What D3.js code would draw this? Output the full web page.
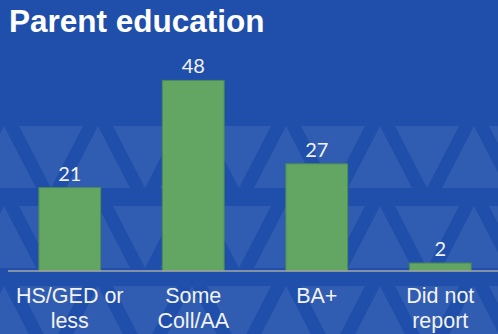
<!DOCTYPE html>
<html>
<head>
<meta charset="utf-8">
<script src="https://cdn.jsdelivr.net/npm/d3@7"></script>
<style>
  html, body { margin: 0; padding: 0; background: #1f4fab; }
  svg { display: block; }
</style>
</head>
<body>
<svg></svg>
<script>
var svgWidth = 498, svgHeight = 334;

// chart data
var categories = ["HS/GED or|less", "Some|Coll/AA", "BA+", "Did not|report"];
var values = [21, 48, 27, 2];
var title = "Parent education";

var svg = d3.select("svg").attr("width", svgWidth).attr("height", svgHeight);

// background
svg.append("rect")
    .attr("width", svgWidth)
    .attr("height", svgHeight)
    .attr("fill", "#1f4fab");

// decorative triangle band
var deco = svg.append("g").attr("fill", "#ffffff").attr("opacity", 0.075);
var rows = [126, 206, 286];
rows.forEach(function(top, r) {
    for (var k = -1; k < 7; k++) {
        var cx = 4 + k * 94;
        var h = 62, w = 64;
        // up triangle
        deco.append("path")
            .attr("d", "M" + (cx + 94) + "," + top + " L" + (cx + 94 + w / 2) + "," + (top + h) + " L" + (cx + 94 - w / 2) + "," + (top + h) + "Z");
        // down triangle
        deco.append("path")
            .attr("d", "M" + (cx + 47 - w / 2) + "," + top + " L" + (cx + 47 + w / 2) + "," + top + " L" + (cx + 47) + "," + (top + h) + "Z");
    }
});

var margin = {left: 8, right: -4},
    baseY = 271;

var xScale = d3.scaleBand()
    .domain(categories)
    .range([margin.left, svgWidth - margin.right])
    .paddingInner(0.5)
    .paddingOuter(0.25);

var yScale = d3.scaleLinear()
    .domain([0, 60])
    .range([baseY, baseY - 60 * 3.97]);

// title
svg.append("text")
    .text(title)
    .attr("x", 9)
    .attr("y", 32)
    .attr("fill", "#ffffff")
    .style("font-family", "Liberation Sans, Arial, sans-serif")
    .style("font-weight", "bold")
    .style("font-size", "31.5px");

// bars
svg.selectAll(".bar")
    .data(values)
    .enter()
    .append("rect")
    .attr("class", "bar")
    .attr("x", function(d, i) { return xScale(categories[i]); })
    .attr("y", function(d) { return yScale(d); })
    .attr("width", xScale.bandwidth())
    .attr("height", function(d) { return baseY - yScale(d); })
    .attr("fill", "#63a663")
    .attr("stroke", "#4f8a55")
    .attr("stroke-width", 1);

// value labels
svg.selectAll(".val")
    .data(values)
    .enter()
    .append("text")
    .attr("class", "val")
    .text(function(d) { return d; })
    .attr("x", function(d, i) { return xScale(categories[i]) + xScale.bandwidth() / 2; })
    .attr("y", function(d) { return yScale(d) - 7; })
    .attr("text-anchor", "middle")
    .attr("fill", "#f2f2f2")
    .style("font-family", "Lato, Carlito, sans-serif")
    .style("font-size", "20px");

// baseline axis
var xAxis = d3.axisBottom(xScale).tickSize(0).tickFormat("");
var axis = svg.append("g")
    .attr("transform", "translate(0," + baseY + ")")
    .call(xAxis);
axis.select(".domain").attr("stroke", "#a6a6a6").attr("stroke-width", 1.5)
    .attr("d", "M8,0H498");

// category labels, two lines
svg.selectAll(".cat")
    .data(categories)
    .enter()
    .append("text")
    .attr("class", "cat")
    .attr("text-anchor", "middle")
    .attr("fill", "#f2f2f2")
    .style("font-family", "Liberation Sans, Arial, sans-serif")
    .style("font-size", "21.5px")
    .each(function(d) {
        var t = d3.select(this);
        var x = xScale(d) + xScale.bandwidth() / 2;
        d.split("|").forEach(function(line, j) {
            t.append("tspan")
                .attr("x", x)
                .attr("y", 303 + j * 25)
                .text(line);
        });
    });
</script>
</body>
</html>
